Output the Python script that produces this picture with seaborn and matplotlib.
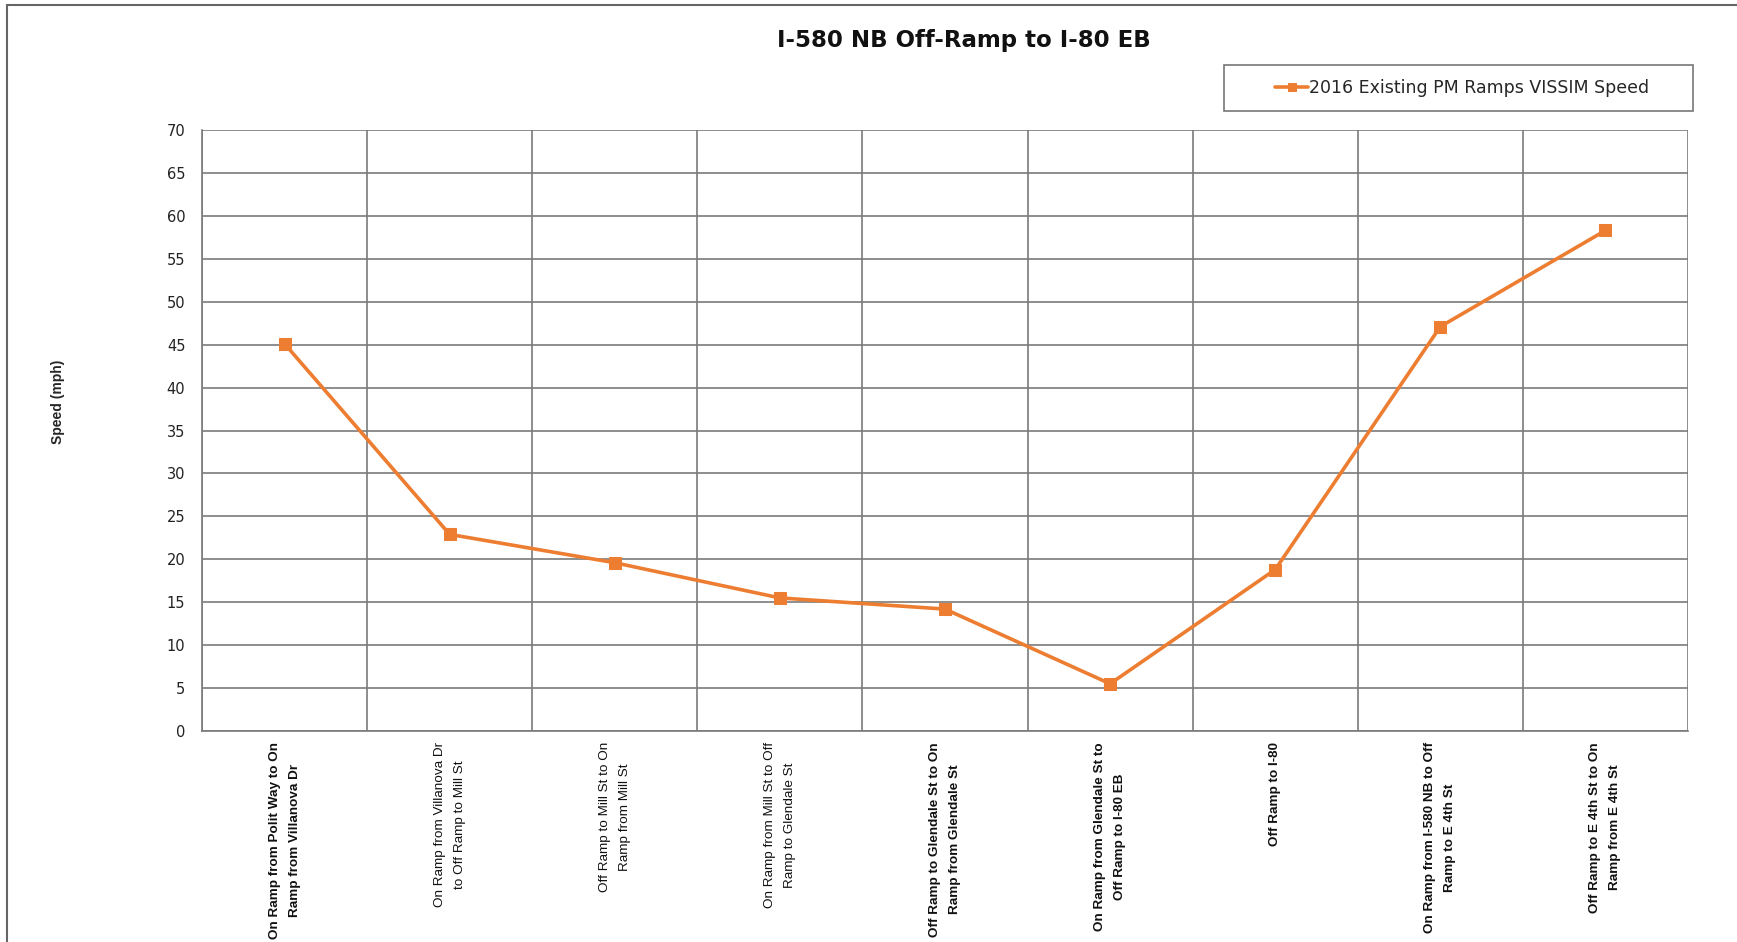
import numpy as np
import pandas as pd
import matplotlib
matplotlib.use("Agg")
import matplotlib.pyplot as plt
from matplotlib.patches import Rectangle
import seaborn as sns

# Ramp segments along the I-580 NB corridor, in travel order
segments = [
    "On Ramp from Polit Way to On\nRamp from Villanova Dr",
    "On Ramp from Villanova Dr\nto Off Ramp to Mill St",
    "Off Ramp to Mill St to On\nRamp from Mill St",
    "On Ramp from Mill St to Off\nRamp to Glendale St",
    "Off Ramp to Glendale St to On\nRamp from Glendale St",
    "On Ramp from Glendale St to\nOff Ramp to I-80 EB",
    "Off Ramp to I-80",
    "On Ramp from I-580 NB to Off\nRamp to E 4th St",
    "Off Ramp to E 4th St to On\nRamp from E 4th St",
]
label_weights = ["bold", "normal", "normal", "normal", "bold", "bold", "bold", "bold", "bold"]
speeds = [45.1, 22.9, 19.6, 15.5, 14.2, 5.5, 18.8, 47.1, 58.3]
series_name = "2016 Existing PM Ramps VISSIM Speed"
y_ticks = list(range(0, 75, 5))

df = pd.DataFrame({"pos": np.arange(len(segments)), "speed": speeds})

sns.set_theme(style="white")
plt.rcParams["font.family"] = ["Liberation Sans", "DejaVu Sans"]

W, H = 1737, 942
fig = plt.figure(figsize=(W / 100, H / 100), dpi=100)
ax = fig.add_axes([202 / W, 1 - 731 / H, (1688 - 202) / W, (731 - 130) / H])

orange = "#ED7D31"
grid_c = "#7a7a7a"

sns.lineplot(data=df, x="pos", y="speed", ax=ax, color=orange, linewidth=2.6,
             marker="s", markersize=8, markeredgecolor=orange, label=series_name,
             legend=False)

ax.set_xlim(-0.5, len(segments) - 0.5)
ax.set_ylim(0, 70)

# boundaries between segments carry the grid and tick marks
ax.set_xticks(np.arange(-0.5, len(segments), 1.0))
ax.set_xticklabels([])
ax.set_xticks(np.arange(len(segments)), minor=True)
ax.set_xticklabels(segments, minor=True, rotation=90, ha="center", va="top",
                   multialignment="center", fontsize=9.7, linespacing=1.9,
                   color="#111111")
for lbl, wt in zip(ax.get_xticklabels(minor=True), label_weights):
    lbl.set_fontweight(wt)
ax.tick_params(axis="x", which="major", length=6, width=1.2, color=grid_c, direction="out")
ax.tick_params(axis="x", which="minor", length=0, pad=8)

ax.set_yticks(y_ticks)
ax.set_yticklabels([str(v) for v in y_ticks], fontsize=10.5, color="#222222",
                   family="DejaVu Sans")
ax.tick_params(axis="y", length=6, width=1.2, color=grid_c, direction="out", pad=6)

ax.grid(True, which="major", axis="both", color=grid_c, linewidth=1.2)
ax.set_axisbelow(True)
for side in ["top", "right"]:
    ax.spines[side].set_visible(False)
for side in ["left", "bottom"]:
    ax.spines[side].set_color(grid_c)
    ax.spines[side].set_linewidth(1.2)

ax.set_xlabel("")
ax.set_ylabel("")
fig.text(58 / W, 1 - 402 / H, "Speed (mph)", rotation=90, ha="center", va="center",
         fontsize=10, fontweight="bold")

fig.text(964 / W, 1 - 41 / H, "I-580 NB Off-Ramp to I-80 EB", ha="center", va="center",
         fontsize=16.5, fontweight="bold", color="#111111", family="DejaVu Sans")

# legend in its own framed box at the top right
fig.patches.append(Rectangle((1224 / W, 1 - 111 / H), (1693 - 1224) / W, 46 / H,
                             transform=fig.transFigure, fill=False,
                             edgecolor="#777777", linewidth=1.2))
handles, labels = ax.get_legend_handles_labels()
fig.legend(handles, labels, loc="center", bbox_to_anchor=(1462 / W, 1 - 88 / H),
           frameon=False, prop={"family": "DejaVu Sans", "size": 12.5},
           handlelength=1.9, handletextpad=0.05, markerscale=0.75)

# outer chart border
fig.patches.append(Rectangle((7 / W, -0.05), 1.1, 1 - 5 / H + 0.05,
                             transform=fig.transFigure, fill=False,
                             edgecolor="#666666", linewidth=1.5))

fig.savefig("out.png", dpi=100)
